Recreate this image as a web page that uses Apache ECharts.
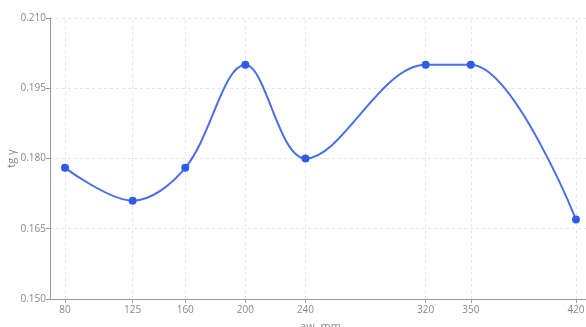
<!DOCTYPE html>
<html>
<head>
<meta charset="utf-8">
<script src="https://cdn.jsdelivr.net/npm/echarts@6/dist/echarts.min.js"></script>
<style>html,body{margin:0;padding:0;background:#fff;}#c{width:586px;height:327px;}</style>
</head>
<body>
<div id="c"></div>
<script>
const xValues = [80, 125, 160, 200, 240, 320, 350, 420];
const yValues = [0.178, 0.171, 0.178, 0.200, 0.180, 0.200, 0.200, 0.167];
const xTicks = [80, 125, 160, 200, 240, 320, 350, 420];
const xName = 'aw, mm';
const yName = 'tg γ';

const chart = echarts.init(document.getElementById('c'), null, {renderer: 'canvas'});
const font = '"Open Sans", "Noto Sans", sans-serif';
chart.setOption({
  animation: false,
  textStyle: {fontFamily: font},
  grid: {left: 50, width: 541, top: 18, bottom: 28, containLabel: false, outerBoundsMode: 'none'},
  xAxis: {
    type: 'value', min: 70, max: 430,
    name: xName, nameLocation: 'middle', nameGap: 22, nameMoveOverlap: false,
    nameTextStyle: {color: '#888', fontSize: 11, fontFamily: font},
    axisLine: {show: true, lineStyle: {color: '#999'}},
    axisTick: {show: true, customValues: xTicks, length: 4, lineStyle: {color: '#999'}},
    axisLabel: {customValues: xTicks, color: '#888', fontSize: 10, margin: 6, fontFamily: font},
    splitLine: {show: false}
  },
  yAxis: {
    type: 'value', min: 0.150, max: 0.210, interval: 0.015,
    name: yName, nameLocation: 'middle', nameGap: 33, nameRotate: 90, nameMoveOverlap: false,
    nameTextStyle: {color: '#888', fontSize: 11, fontFamily: font},
    axisLine: {show: true, lineStyle: {color: '#999'}},
    axisTick: {show: true, length: 4, lineStyle: {color: '#999'}},
    axisLabel: {color: '#888', fontSize: 10, margin: 4, fontFamily: font, formatter: v => v.toFixed(3)},
    splitLine: {show: true, lineStyle: {color: '#e6e6e6', type: [3, 3]}}
  },
  series: [{
    type: 'line', smooth: 0.35, z: 3,
    data: xValues.map((x, i) => [x, yValues[i]]),
    symbol: 'circle', symbolSize: 8,
    lineStyle: {color: '#4a6ee6', width: 2},
    itemStyle: {color: '#2f5be8'},
    markLine: {
      silent: true, symbol: 'none', z: 1,
      label: {show: false},
      lineStyle: {color: '#e6e6e6', type: [3, 3], width: 1},
      data: xTicks.map(v => ({xAxis: v}))
    }
  }]
});
</script>
</body>
</html>
